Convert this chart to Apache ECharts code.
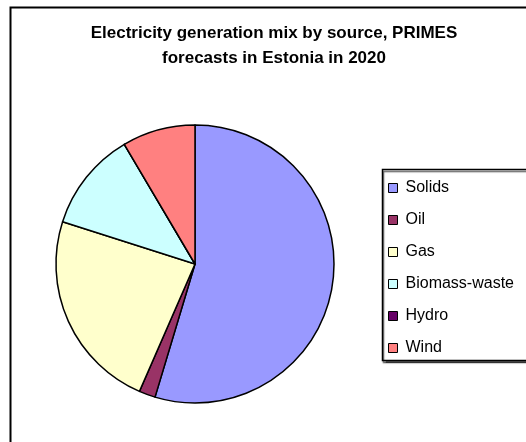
<!DOCTYPE html>
<html>
<head>
<meta charset="utf-8">
<script src="https://cdn.jsdelivr.net/npm/echarts@6/dist/echarts.min.js"></script>
<style>
  html, body { margin: 0; padding: 0; background: #fff; }
  #chart { width: 526px; height: 442px; }
</style>
</head>
<body>
<div id="chart"></div>
<script>
  // share of generation (percent)
  var sources = ['Solids', 'Oil', 'Gas', 'Biomass-waste', 'Hydro', 'Wind']
  var shares = [54.7, 1.9, 23.4, 11.6, 0, 8.5]
  var colors = ['#9999FF', '#993366', '#FFFFCC', '#CCFFFF', '#660066', '#FF8080']
  var titleLines = ['Electricity generation mix by source, PRIMES', 'forecasts in Estonia in 2020']

  var chart = echarts.init(document.getElementById('chart'))

  var pieData = sources.map(function (name, i) {
    return { name: name, value: shares[i], itemStyle: { color: colors[i] } }
  })

  chart.setOption({
    animation: false,
    graphic: [
      // outer chart frame (runs off the right and bottom edge)
      {
        type: 'rect',
        shape: { x: 10.5, y: 7.5, width: 560, height: 480 },
        style: { fill: 'none', stroke: '#000', lineWidth: 2 },
        z: 0
      },
      // legend box with a little shadow
      {
        type: 'rect',
        shape: { x: 382.5, y: 169.5, width: 170, height: 191 },
        style: {
          fill: '#fff', stroke: '#000', lineWidth: 1.5,
          shadowColor: 'rgba(0,0,0,0.6)', shadowOffsetY: 2, shadowOffsetX: 1, shadowBlur: 1
        },
        z: 0
      },
      {
        type: 'text',
        x: 274, y: 21,
        style: {
          text: titleLines.join('\n'),
          align: 'center',
          fontFamily: 'Liberation Sans, Arial, sans-serif',
          fontWeight: 'bold',
          fontSize: 17,
          lineHeight: 25,
          fill: '#000'
        },
        z: 10
      }
    ],
    legend: {
      orient: 'vertical',
      left: 383,
      top: 175,
      padding: 5,
      itemWidth: 9,
      itemHeight: 9,
      itemGap: 16,
      icon: 'rect',
      data: sources,
      itemStyle: { borderColor: '#000', borderWidth: 1 },
      textStyle: {
        fontFamily: 'Liberation Sans, Arial, sans-serif',
        fontSize: 16,
        lineHeight: 16,
        color: '#000',
        padding: [0, 0, 0, 3]
      },
      z: 10
    },
    series: [{
      type: 'pie',
      center: [195, 264],
      radius: 139,
      startAngle: 90,
      clockwise: true,
      label: { show: false },
      labelLine: { show: false },
      emphasis: { disabled: true },
      itemStyle: { borderColor: '#000', borderWidth: 1.5 },
      data: pieData
    }]
  })
</script>
</body>
</html>
